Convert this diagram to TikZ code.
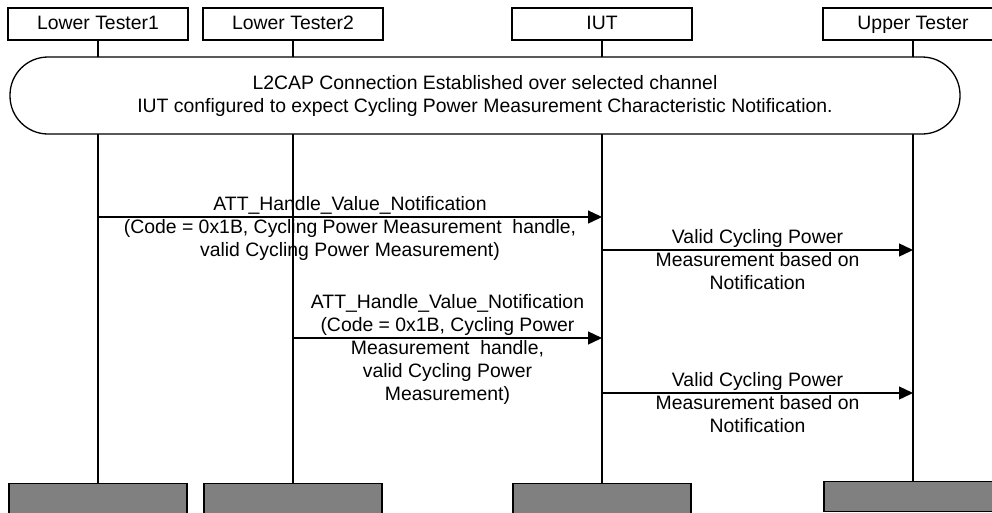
\documentclass[tikz,border=0pt]{standalone}
\usepackage{fontspec}
\setmainfont{Liberation Sans}
\usetikzlibrary{arrows.meta}

\begin{document}
\begin{tikzpicture}[x=1pt,y=-1pt,
    every node/.style={font=\fontsize{19.4}{23}\selectfont},
    head/.style={draw,line width=1.3pt,minimum width=180pt,minimum height=32pt,inner sep=0pt,text height=14pt,text depth=4pt},
    foot/.style={draw,line width=1.3pt,fill=gray,minimum width=178pt,minimum height=40pt,anchor=north,inner sep=0pt},
    life/.style={line width=1.3pt},
    msg/.style={line width=1.3pt,-{Triangle[length=14pt,width=13pt]}},
    lbl/.style={align=center,inner sep=2pt}]
  \useasboundingbox (0,0) rectangle (992,512);
  % actors
  \node[head] (lt1) at (98,24) {Lower Tester1};
  \node[head] (lt2) at (293,24) {Lower Tester2};
  \node[head] (iut) at (602,24) {IUT};
  \node[head] (ut) at (913,24) {Upper Tester};
  \node[foot] (lt1f) at (98,483) {};
  \node[foot] (lt2f) at (293,483) {};
  \node[foot] (iutf) at (602,483) {};
  \node[foot,minimum height=30pt] (utf) at (913,481) {};
  % lifelines
  \draw[life] (lt1) -- (lt1f);
  \draw[life] (lt2) -- (lt2f);
  \draw[life] (iut) -- (iutf);
  \draw[life] (ut) -- (utf);
  \node[draw,line width=1.3pt,fill=white,rounded corners=38pt,minimum width=950pt,minimum height=77pt,align=center] (conn) at (485,95.5)
    {L2CAP Connection Established over selected channel\\IUT configured to expect Cycling Power Measurement Characteristic Notification.};
  % messages
  \coordinate (m1s) at (98,217);
  \coordinate (m1e) at (602,217);
  \coordinate (m2s) at (602,250);
  \coordinate (m2e) at (913,250);
  \coordinate (m3s) at (293,338);
  \coordinate (m3e) at (602,338);
  \coordinate (m4s) at (602,393);
  \coordinate (m4e) at (913,393);
  \draw[msg] (m1s) -- (m1e)
    node[midway,above,lbl] {ATT\_Handle\_Value\_Notification}
    node[midway,below,lbl] {(Code = 0x1B, Cycling Power Measurement\ \ handle,\\valid Cycling Power Measurement)};
  \draw[msg] (m2s) -- (m2e)
    node[midway,above,lbl] {Valid Cycling Power}
    node[midway,below,lbl] {Measurement based on\\Notification};
  \draw[msg] (m3s) -- (m3e)
    node[midway,above,lbl] {ATT\_Handle\_Value\_Notification\\(Code = 0x1B, Cycling Power}
    node[midway,below,lbl] {Measurement\ \ handle,\\valid Cycling Power\\Measurement)};
  \draw[msg] (m4s) -- (m4e)
    node[midway,above,lbl] {Valid Cycling Power}
    node[midway,below,lbl] {Measurement based on\\Notification};
\end{tikzpicture}
\end{document}
